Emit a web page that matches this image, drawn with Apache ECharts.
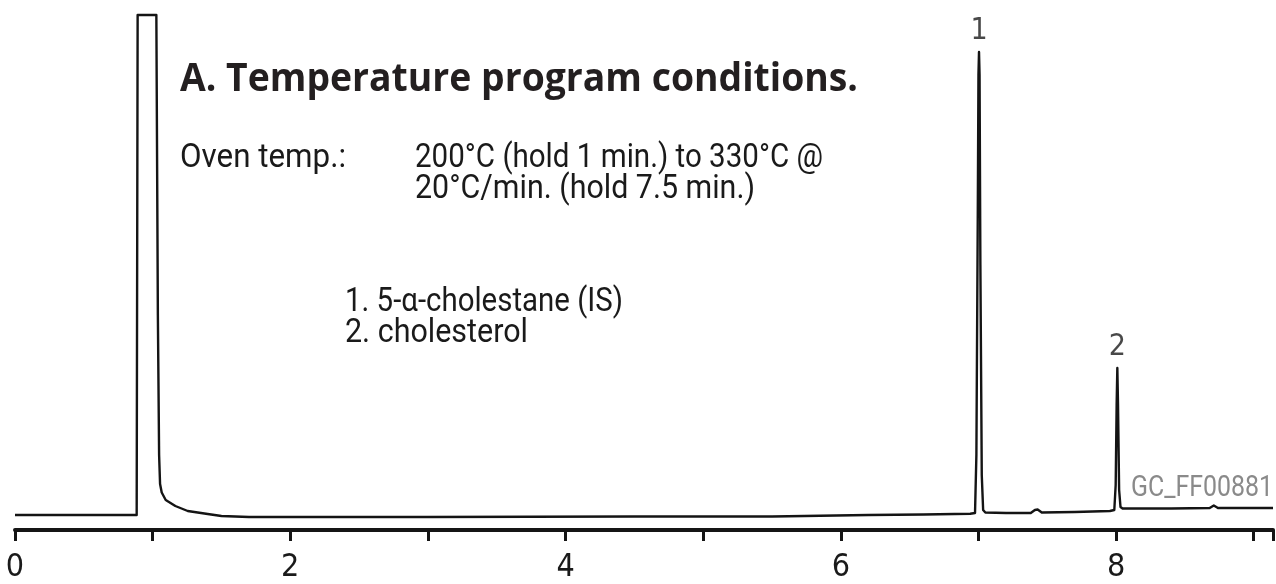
<!DOCTYPE html>
<html>
<head>
<meta charset="utf-8">
<script src="https://cdn.jsdelivr.net/npm/echarts@6/dist/echarts.min.js"></script>
<style>
html,body{margin:0;padding:0;background:#fff;}
#c{width:1276px;height:584px;}
</style>
</head>
<body>
<div id="c"></div>
<script>
// ---- data (retention time in min, detector response in arbitrary units) ----
const times = [
  0.00, 0.30, 0.60, 0.884, 0.891, 1.027, 1.038, 1.047, 1.054, 1.066, 1.095, 1.165, 1.255, 1.400, 1.500, 1.700,
  3.000, 4.500, 5.500, 6.200, 6.600, 6.940, 6.975, 6.985, 6.995, 7.000, 7.004, 7.008, 7.014, 7.024, 7.034, 7.050,
  7.200, 7.380, 7.410, 7.430, 7.460, 7.700, 7.955, 7.987, 7.997, 8.004, 8.009, 8.014, 8.022, 8.032, 8.047,
  8.400, 8.680, 8.710, 8.740, 9.140
];
const signal = [
  0.0, 0.0, 0.0, 0.0, 100, 100, 40, 12, 6.2, 4.5, 3.0, 1.8, 0.8, 0.2, -0.2, -0.4,
  -0.4, -0.3, -0.3, 0.0, 0.1, 0.25, 0.4, 12, 60, 88, 92.6, 88, 50, 8, 1.0, 0.5,
  0.4, 0.4, 1.0, 1.1, 0.5, 0.6, 0.8, 1.0, 6, 22, 29.4, 22, 5, 1.6, 1.3,
  1.3, 1.4, 1.9, 1.4, 1.4
];
const peakTimes = [7.004, 8.009];
const peakHeights = [92.6, 29.4];
const peakLabels = ['1', '2'];
const xTickLabels = ['0', '', '2', '', '4', '', '6', '', '8', ''];

const titleText = 'A. Temperature program conditions.';
const ovenLabel = 'Oven temp.:';
const ovenLine1 = '200°C (hold 1 min.) to 330°C @';
const ovenLine2 = '20°C/min. (hold 7.5 min.)';
const compounds = ['1. 5-α-cholestane (IS)', '2. cholesterol'];
const codeText = 'GC_FF00881';

// ---- helpers ----
const mctx = document.createElement('canvas').getContext('2d');
function fit(text, font, w) { mctx.font = font; return w / mctx.measureText(text).width; }
const regFont = "33px Roboto, 'Liberation Sans', sans-serif";
const boldFont = "bold 39px 'Open Sans', 'Liberation Sans', sans-serif";
function txt(text, x, y, font, w, fill) {
  return { type: 'text', x: x, y: y, scaleX: fit(text, font, w), silent: true,
    style: { text: text, font: font, fill: fill || '#1a1a1a', align: 'left', verticalAlign: 'middle' } };
}

const chart = echarts.init(document.getElementById('c'));
chart.setOption({
  animation: false,
  backgroundColor: '#ffffff',
  grid: { left: 15, right: 0, top: 15, bottom: 54, containLabel: false },
  xAxis: {
    type: 'value', min: 0, max: 9.14, interval: 1,
    axisLine: { show: true, onZero: false, lineStyle: { color: '#151515', width: 4 } },
    axisTick: { show: true, length: 11, lineStyle: { color: '#151515', width: 3 } },
    splitLine: { show: false },
    axisLabel: {
      show: true, margin: 22, color: '#1a1a1a',
      fontFamily: "'Liberation Sans Narrow', 'DejaVu Sans Condensed', Roboto, sans-serif",
      fontSize: 32,
      formatter: function (v) { const i = Math.round(v); return xTickLabels[i] !== undefined ? xTickLabels[i] : ''; }
    }
  },
  yAxis: { type: 'value', min: -3, max: 100, show: false },
  series: [
    {
      type: 'line', data: times.map((t, i) => [t, signal[i]]),
      showSymbol: false, symbol: 'none', clip: false,
      lineStyle: { color: '#141414', width: 2.4, join: 'round' }
    },
    {
      type: 'scatter', data: peakTimes.map((t, i) => [t, peakHeights[i]]),
      symbolSize: 0, silent: true,
      label: {
        show: true, position: 'top', distance: 6,
        formatter: function (p) { return peakLabels[p.dataIndex]; },
        color: '#1a1a1a', fontSize: 30,
        fontFamily: "'Liberation Sans Narrow', 'DejaVu Sans Condensed', Roboto, sans-serif"
      }
    }
  ],
  graphic: [
    txt(titleText, 180, 80, boldFont, 678, '#231f20'),
    txt(ovenLabel, 180, 159, regFont, 166),
    txt(ovenLine1, 415, 159, regFont, 408),
    txt(ovenLine2, 415, 190, regFont, 340),
    txt(compounds[0], 345, 303, regFont, 278),
    txt(compounds[1], 345, 334, regFont, 183),
    txt(codeText, 1131, 488, "30px Roboto, 'Liberation Sans', sans-serif", 142, '#8a8a8a')
  ]
});
</script>
</body>
</html>
